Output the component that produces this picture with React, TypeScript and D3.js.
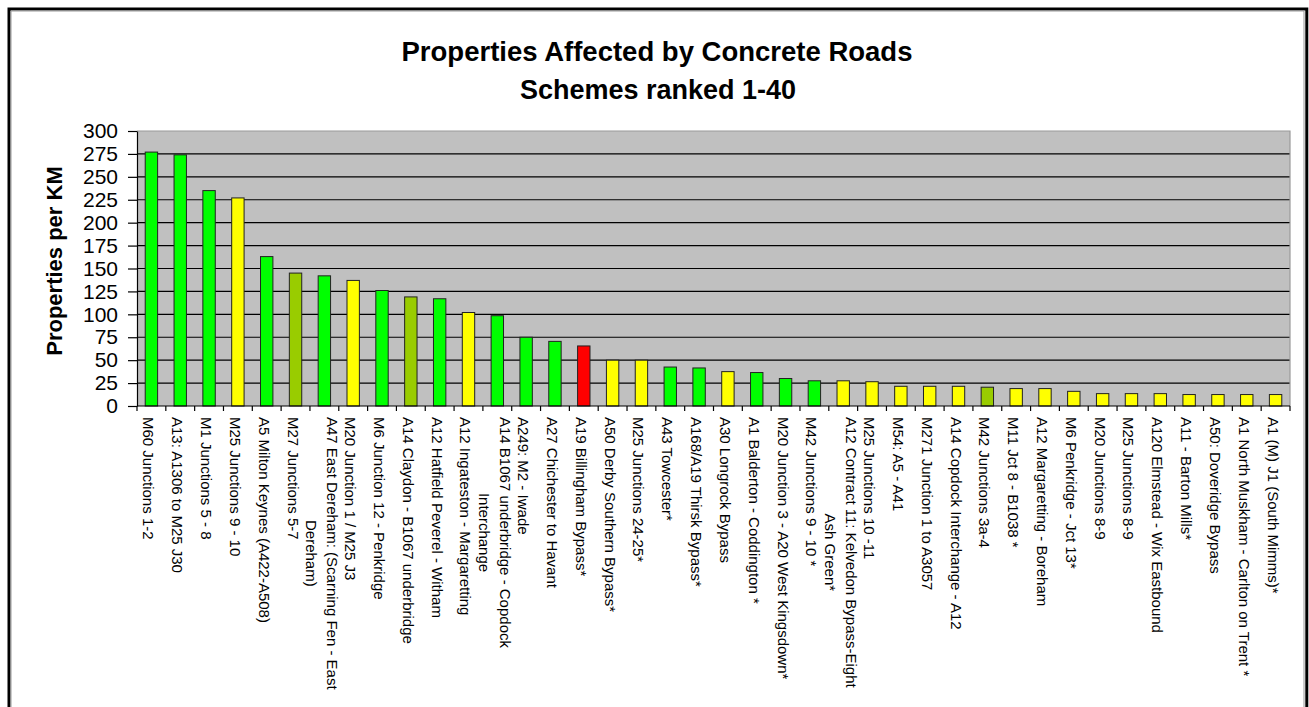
import React, { useEffect, useRef } from 'react';
import * as d3 from 'd3';

// scheme names, "\n" marks where the original label wraps
const schemes: string[] = [
  'M60 Junctions 1-2',
  'A13: A1306 to M25 J30',
  'M1 Junctions 5 - 8',
  'M25 Junctions 9 - 10',
  'A5 Milton Keynes (A422-A508)',
  'M27 Junctions 5-7',
  'A47 East Dereham: (Scarning Fen - East\nDereham)',
  'M20 Junction 1 / M25 J3',
  'M6 Junction 12 - Penkridge',
  'A14 Claydon - B1067 underbridge',
  'A12 Hatfield Peverel - Witham',
  'A12 Ingateston - Margaretting',
  'A14 B1067 underbridge - Copdock\nInterchange',
  'A249: M2 - Iwade',
  'A27 Chichester to Havant',
  'A19 Billingham Bypass*',
  'A50 Derby Southern Bypass*',
  'M25 Junctions 24-25*',
  'A43 Towcester*',
  'A168/A19 Thirsk Bypass*',
  'A30 Longrock Bypass',
  'A1 Balderton - Coddington *',
  'M20 Junction 3 - A20 West Kingsdown*',
  'M42 Junctions 9 - 10 *',
  'A12 Contract 11: Kelvedon Bypass-Eight\nAsh Green*',
  'M25 Junctions 10 -11',
  'M54: A5 - A41',
  'M271 Junction 1 to A3057',
  'A14 Copdock Interchange - A12',
  'M42 Junctions 3a-4',
  'M11 Jct 8 - B1038 *',
  'A12 Margaretting - Boreham',
  'M6 Penkridge - Jct 13*',
  'M20 Junctions 8-9',
  'M25 Junctions 8-9',
  'A120 Elmstead - Wix Eastbound',
  'A11 - Barton Mills*',
  'A50: Doveridge Bypass',
  'A1 North Muskham - Carlton on Trent *',
  'A1 (M) J1 (South Mimms)*',
];

const propertiesPerKm: number[] = [
  277, 274, 235, 227, 163, 145, 142, 137, 126, 119,
  117, 102, 98.5, 75, 70.5, 65.5, 50, 50, 42.5, 41.5,
  37.5, 36.5, 30, 27.5, 27.5, 26.5, 21.5, 21.5, 21.5, 20.5,
  19, 19, 16, 13.5, 13.5, 13.5, 12.5, 12.5, 12.5, 12.5,
];

const barGroup: string[] = [
  'green', 'green', 'green', 'yellow', 'green', 'olive', 'green', 'yellow', 'green', 'olive',
  'green', 'yellow', 'green', 'green', 'green', 'red', 'yellow', 'yellow', 'green', 'green',
  'yellow', 'green', 'green', 'green', 'yellow', 'yellow', 'yellow', 'yellow', 'yellow', 'olive',
  'yellow', 'yellow', 'yellow', 'yellow', 'yellow', 'yellow', 'yellow', 'yellow', 'yellow', 'yellow',
];

const yTicks: number[] = [0, 25, 50, 75, 100, 125, 150, 175, 200, 225, 250, 275, 300];

const colours: Record<string, string> = {
  green: '#00ff00',
  yellow: '#ffff00',
  olive: '#99cc00',
  red: '#ff0000',
};

const W = 1309;
const H = 707;
const FONT = '"Liberation Sans", Arial, Helvetica, sans-serif';

export default function App() {
  const svgRef = useRef<SVGSVGElement | null>(null);

  useEffect(() => {
    if (!svgRef.current) return;
    const svg = d3.select(svgRef.current);
    svg.selectAll('*').remove();

    const left = 137;
    const right = 1290;
    const top = 131;
    const bottom = 406;

    // outer frame (open at the bottom, cropped)
    svg.append('path')
      .attr('d', `M9,${H} V9 H1306.8 V${H}`)
      .attr('fill', 'none')
      .attr('stroke', '#000')
      .attr('stroke-width', 3);
    svg.append('path')
      .attr('d', `M11,${H} V11 H1304 V${H}`)
      .attr('fill', 'none')
      .attr('stroke', '#999')
      .attr('stroke-width', 1);

    // titles
    svg.append('text')
      .attr('x', 657).attr('y', 61)
      .attr('text-anchor', 'middle')
      .attr('font-family', FONT).attr('font-size', 27.5).attr('font-weight', 'bold')
      .text('Properties Affected by Concrete Roads');
    svg.append('text')
      .attr('x', 658).attr('y', 99)
      .attr('text-anchor', 'middle')
      .attr('font-family', FONT).attr('font-size', 27).attr('font-weight', 'bold')
      .text('Schemes ranked 1-40');

    const x = d3.scaleBand<number>()
      .domain(d3.range(schemes.length))
      .range([left, right])
      .paddingInner(0.57)
      .paddingOuter(0.285);
    const y = d3.scaleLinear().domain([0, 300]).range([bottom, top]);

    // plot background
    svg.append('rect')
      .attr('x', left).attr('y', top)
      .attr('width', right - left).attr('height', bottom - top)
      .attr('fill', '#c0c0c0');

    // gridlines
    svg.append('g')
      .selectAll('line')
      .data(yTicks.filter((t) => t > 0 && t < 300))
      .enter().append('line')
      .attr('x1', left).attr('x2', right)
      .attr('y1', (d) => y(d)).attr('y2', (d) => y(d))
      .attr('stroke', '#000').attr('stroke-width', 1.2);

    // plot border top/right
    svg.append('path')
      .attr('d', `M${left},${y(300)} H${right} V${bottom}`)
      .attr('fill', 'none')
      .attr('stroke', '#9a9a9a')
      .attr('stroke-width', 1.2);

    // bars
    svg.append('g')
      .selectAll('rect')
      .data(propertiesPerKm)
      .enter().append('rect')
      .attr('x', (_, i) => x(i) as number)
      .attr('y', (d) => y(d))
      .attr('width', x.bandwidth())
      .attr('height', (d) => bottom - y(d))
      .attr('fill', (_, i) => colours[barGroup[i]])
      .attr('stroke', '#222')
      .attr('stroke-width', 1);

    // y axis
    const yAxis = svg.append('g')
      .attr('transform', `translate(${left},0)`)
      .call(d3.axisLeft(y).tickValues(yTicks).tickSize(9).tickSizeOuter(0).tickPadding(10));
    yAxis.select('.domain').attr('stroke', '#000').attr('stroke-width', 1.2);
    yAxis.selectAll('.tick line').attr('stroke', '#000').attr('stroke-width', 1.2);
    yAxis.selectAll('.tick text')
      .attr('font-family', FONT)
      .attr('font-size', 21)
      .attr('fill', '#000');

    // y axis title
    svg.append('text')
      .attr('transform', 'translate(62,261) rotate(-90)')
      .attr('text-anchor', 'middle')
      .attr('font-family', FONT).attr('font-size', 22).attr('font-weight', 'bold')
      .text('Properties per KM');

    // x axis line and ticks between categories
    svg.append('line')
      .attr('x1', left).attr('x2', right)
      .attr('y1', bottom).attr('y2', bottom)
      .attr('stroke', '#000').attr('stroke-width', 1.2);
    svg.append('g')
      .selectAll('line')
      .data(d3.range(schemes.length + 1))
      .enter().append('line')
      .attr('x1', (i) => left + i * x.step())
      .attr('x2', (i) => left + i * x.step())
      .attr('y1', bottom).attr('y2', bottom + 5)
      .attr('stroke', '#000').attr('stroke-width', 1.2);

    // category labels, rotated to read downwards
    const labels = svg.append('g')
      .selectAll('g')
      .data(schemes)
      .enter().append('g')
      .attr('transform', (_, i) => `translate(${(x(i) as number) + x.bandwidth() / 2},417) rotate(90)`);

    labels.each(function (d) {
      const g = d3.select(this);
      const lines = d.split('\n');
      const text = g.append('text')
        .attr('font-family', FONT)
        .attr('font-size', 15)
        .attr('fill', '#000')
        .attr('text-anchor', 'middle');
      const spans = lines.map((line, k) =>
        text.append('tspan')
          .attr('y', 8 + (k - (lines.length - 1) / 2) * 21)
          .text(line)
      );
      const maxLen = d3.max(spans, (s) => (s.node() as SVGTSpanElement).getComputedTextLength()) || 0;
      spans.forEach((s) => s.attr('x', maxLen / 2));
    });
  }, []);

  return (
    <svg
      ref={svgRef}
      width={W}
      height={H}
      style={{ position: 'absolute', left: 0, top: 0, background: '#fff' }}
    />
  );
}
